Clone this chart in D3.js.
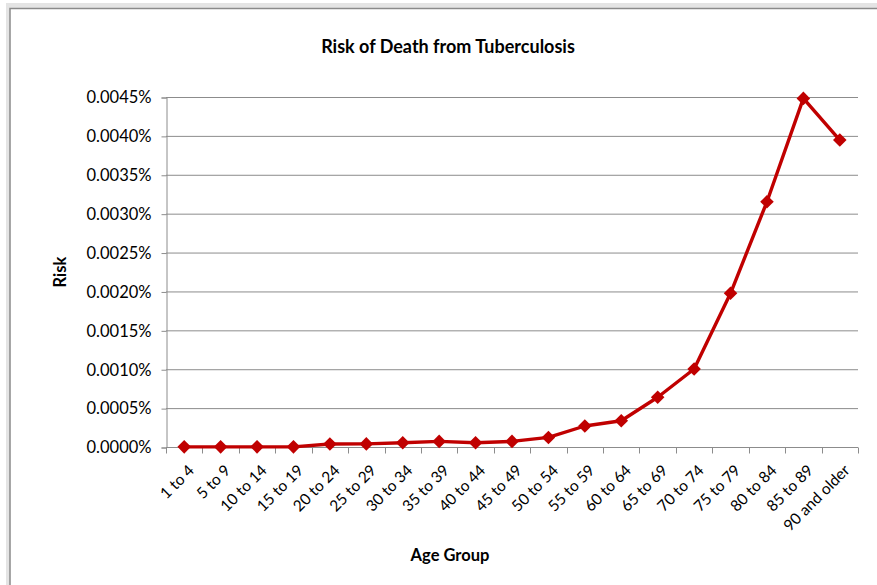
<!DOCTYPE html>
<html>
<head>
<meta charset="utf-8">
<script src="https://cdn.jsdelivr.net/npm/d3@7"></script>
<style>
  body { margin: 0; background: #fff; }
  text { font-family: Lato, "Open Sans", sans-serif; fill: #000; }
</style>
</head>
<body>
<svg id="chart" width="877" height="585"></svg>
<script>
// age groups and risk (in percent)
const ageGroups = ["1 to 4", "5 to 9", "10 to 14", "15 to 19", "20 to 24", "25 to 29",
  "30 to 34", "35 to 39", "40 to 44", "45 to 49", "50 to 54", "55 to 59", "60 to 64",
  "65 to 69", "70 to 74", "75 to 79", "80 to 84", "85 to 89", "90 and older"];
const riskPct = [0.000002, 0.000002, 0.000002, 0.000002, 0.000039, 0.000040,
  0.000055, 0.000072, 0.000055, 0.000072, 0.000123, 0.000270, 0.000338,
  0.000640, 0.001003, 0.001976, 0.003153, 0.004482, 0.003946];
const yTicks = [0, 0.0005, 0.001, 0.0015, 0.002, 0.0025, 0.003, 0.0035, 0.004, 0.0045];

const svg = d3.select("#chart");

// chart frame
svg.append("rect").attr("x", 6).attr("y", 3).attr("width", 880).attr("height", 590)
  .attr("fill", "#e4e4e4");
svg.append("rect").attr("x", 10).attr("y", 8.5).attr("width", 880).attr("height", 590)
  .attr("fill", "#fff").attr("stroke", "#8a8a8a").attr("stroke-width", 1.5);

const plotL = 166, plotR = 858, plotT = 97, plotB = 447;

const x = d3.scaleBand().domain(ageGroups).range([plotL, plotR]);
const y = d3.scaleLinear().domain([0, 0.0045]).range([plotB, plotT]);

// gridlines
svg.append("g").selectAll("line").data(yTicks.slice(1)).join("line")
  .attr("x1", plotL).attr("x2", plotR)
  .attr("y1", d => y(d) + 0.5).attr("y2", d => y(d) + 0.5)
  .attr("stroke", "#8c8c8c").attr("stroke-width", 1);

// y axis
const yAxis = svg.append("g").attr("transform", `translate(${plotL + 0.5},0.5)`)
  .call(d3.axisLeft(y).tickValues(yTicks).tickSize(5).tickPadding(10)
    .tickFormat(d => d3.format(".4f")(d) + "%"));
yAxis.select(".domain").attr("stroke", "#8c8c8c");
yAxis.selectAll(".tick line").attr("stroke", "#8c8c8c");
yAxis.selectAll(".tick text").style("font-size", "16.5px");

// x axis
const xAxis = svg.append("g").attr("transform", `translate(0,${plotB + 0.5})`)
  .call(d3.axisBottom(x).tickSize(0).tickFormat(""));
xAxis.select(".domain").attr("stroke", "#8c8c8c").attr("d", `M${plotL},0H${plotR}`);
xAxis.selectAll(".tick").remove();
const bounds = ageGroups.map(g => x(g)).concat([plotR]);
xAxis.selectAll("line.tk").data(bounds).join("line").attr("class", "tk")
  .attr("x1", d => Math.round(d) + 0.5).attr("x2", d => Math.round(d) + 0.5)
  .attr("y1", 0).attr("y2", 6).attr("stroke", "#8c8c8c");
xAxis.selectAll("text.lbl").data(ageGroups).join("text").attr("class", "lbl")
  .attr("transform", d => `translate(${x(d) + x.bandwidth() / 2 + 7},${20}) rotate(-45)`)
  .attr("text-anchor", "end").attr("dy", "0.35em")
  .style("font-size", "15.5px").text(d => d);

// line + markers
const pts = ageGroups.map((g, i) => [x(g) + x.bandwidth() / 2, y(riskPct[i])]);
svg.append("path").attr("d", d3.line()(pts)).attr("fill", "none")
  .attr("stroke", "#c00000").attr("stroke-width", 3.4).attr("stroke-linejoin", "round");
svg.append("g").selectAll("path").data(pts).join("path")
  .attr("d", d3.symbol(d3.symbolSquare, 92)())
  .attr("transform", d => `translate(${d[0]},${d[1]}) rotate(45)`)
  .attr("fill", "#c00000");

// titles
svg.append("text").attr("x", 448).attr("y", 53).attr("text-anchor", "middle")
  .style("font-size", "18px").style("font-weight", "bold")
  .text("Risk of Death from Tuberculosis");
svg.append("text").attr("transform", "translate(66,272) rotate(-90)")
  .attr("text-anchor", "middle").style("font-size", "16.5px").style("font-weight", "bold")
  .text("Risk");
svg.append("text").attr("x", 450).attr("y", 561).attr("text-anchor", "middle")
  .style("font-size", "16.5px").style("font-weight", "bold").text("Age Group");
</script>
</body>
</html>
